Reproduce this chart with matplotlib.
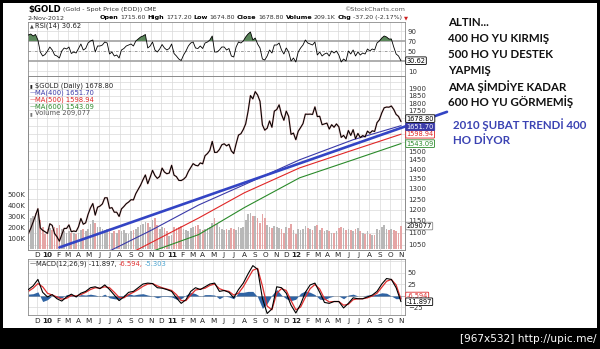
import numpy as np
import pandas as pd
import matplotlib
matplotlib.use('Agg')
import matplotlib.pyplot as plt
from matplotlib.transforms import blended_transform_factory
from matplotlib.patches import Rectangle

plt.rcParams['font.family'] = ['DejaVu Sans']

# weekly (Friday) readings
dates = pd.date_range('2009-11-06', '2012-11-02', freq='W-FRI')

close = [
    # 2009
    1096, 1118, 1145, 1175, 1205, 1120, 1110, 1104,
    # 2010
    1097, 1138, 1131, 1096, 1083, 1065, 1092, 1118, 1118, 1133, 1104, 1107, 1105,
    1125, 1161, 1136, 1142, 1179, 1208, 1229, 1176, 1212, 1217, 1227, 1256, 1256,
    1207, 1210, 1189, 1189, 1170, 1204, 1215, 1228, 1236, 1247, 1246, 1276, 1297,
    1318, 1345, 1370, 1325, 1358, 1394, 1367, 1352, 1362, 1406, 1385, 1376, 1380, 1421,
    # 2011
    1369, 1361, 1342, 1341, 1348, 1360, 1388, 1409, 1430, 1421, 1418, 1434,
    1429, 1474, 1486, 1504, 1556, 1492, 1493, 1509, 1536, 1542, 1530, 1539, 1501,
    1486, 1542, 1594, 1602, 1628, 1663, 1744, 1852, 1829, 1880, 1856, 1812, 1657, 1624,
    1636, 1682, 1642, 1746, 1756, 1788, 1724, 1686, 1746, 1711, 1598, 1606, 1566,
    # 2012
    1617, 1640, 1665, 1726, 1725, 1726, 1724, 1774, 1710, 1712, 1658, 1663, 1668,
    1631, 1658, 1642, 1663, 1645, 1580, 1592, 1572, 1622, 1592, 1627, 1572, 1604,
    1579, 1591, 1583, 1618, 1605, 1620, 1616, 1671, 1690, 1734, 1768, 1773, 1772,
    1780, 1757, 1724, 1711, 1678.8,
]

volume_k = [
    250, 280, 300, 330, 320, 260, 200, 140,
    180, 190, 170, 200, 190, 220, 180, 160, 150, 160, 150, 150, 140,
    150, 170, 180, 160, 180, 230, 260, 240, 200, 200, 180, 170, 180,
    190, 150, 160, 150, 170, 160, 170, 150, 140, 160, 170, 180, 200,
    220, 230, 250, 240, 200, 260, 280, 220, 180, 200, 190, 160, 120, 130,
    200, 190, 200, 210, 180, 170, 160, 190, 200, 210, 220, 180,
    170, 180, 190, 200, 240, 280, 230, 200, 180, 170, 180, 170, 190,
    180, 170, 200, 190, 200, 260, 320, 330, 300, 300, 280, 240, 320, 280,
    220, 200, 190, 210, 200, 190, 180, 150, 200, 190, 230, 170, 140,
    180, 170, 180, 210, 190, 180, 170, 210, 220, 170, 190, 160, 170,
    160, 150, 150, 160, 190, 200, 190, 170, 180, 170, 160, 180, 190,
    160, 150, 140, 160, 140, 130, 130, 180, 170, 200, 220, 180, 170,
    180, 170, 160, 150, 209,
]

rsi = [
    82, 84, 80, 83, 72, 48, 40, 43,
    50, 58, 52, 42, 40, 36, 50, 56, 54, 58, 45, 48, 46,
    55, 64, 52, 55, 66, 70, 72, 48, 60, 60, 62, 68, 66,
    44, 48, 40, 42, 36, 52, 55, 60, 62, 64, 60, 70, 74,
    78, 80, 83, 56, 60, 68, 52, 48, 54, 63, 56, 52, 55, 64,
    45, 40, 34, 31, 42, 50, 60, 66, 68, 56, 55, 60,
    55, 66, 68, 72, 80, 48, 48, 52, 58, 58, 52, 55, 40,
    38, 58, 68, 66, 70, 78, 84, 88, 72, 76, 64, 56, 34, 32,
    40, 52, 46, 62, 62, 66, 52, 44, 56, 48, 30, 36, 28,
    48, 56, 62, 72, 66, 64, 62, 68, 42, 48, 40, 44, 46,
    40, 50, 46, 50, 42, 28, 34, 30, 50, 44, 52, 40, 48,
    42, 46, 44, 54, 50, 54, 52, 66, 70, 76, 80, 78, 74,
    74, 58, 44, 40, 30.62,
]

# MACD read every second week
macd_dates = dates[::2]
macd = [
    14, 22, 36, 8, -2, 3, -6, -11, -2, 4, -2, 6, 10, 18, 20, 16, 24, 14, 2, -10,
    -2, 8, 10, 18, 26, 28, 27, 18, 17, 14, 10, -4, -16, -8, 10, 18, 14, 20, 26, 28,
    10, 12, 8, -4, 14, 28, 48, 66, 58, -5, -38, -28, 20, 18, 6, -20, -37, -18, 8, 24,
    28, 8, -14, -16, -12, -12, -26, -16, -4, -6, -6, -2, 2, 10, 26, 38, 36, 18, -11.897,
]
signal = [
    10, 17, 27, 20, 6, 2, -2, -7, -5, 1, 0, 3, 8, 14, 18, 17, 20, 18, 8, -3,
    -4, 3, 8, 14, 21, 26, 27, 22, 18, 15, 12, 3, -10, -10, 2, 13, 15, 17, 23, 26,
    16, 12, 10, 2, 6, 20, 38, 56, 60, 22, -22, -30, 6, 16, 12, -10, -30, -24, -3, 16,
    25, 15, -6, -13, -12, -12, -20, -18, -8, -6, -6, -4, 0, 6, 19, 32, 36, 24, -6.594,
]

# moving averages (smooth, read at a few dates)
ma400_dates = pd.to_datetime(['2010-05-01', '2010-07-08', '2010-11-01', '2011-03-20',
                              '2011-08-01', '2012-01-10', '2012-06-15', '2012-11-02'])
ma400 = [1000, 1030, 1110, 1222, 1320, 1451, 1566, 1651.7]
ma500_dates = pd.to_datetime(['2010-07-01', '2010-09-20', '2011-03-20', '2011-08-01',
                              '2012-01-10', '2012-06-15', '2012-11-02'])
ma500 = [1000, 1030, 1163, 1280, 1407, 1506, 1598.94]
ma600_dates = pd.to_datetime(['2010-09-01', '2010-11-15', '2011-03-20', '2011-08-01',
                              '2012-01-10', '2012-06-15', '2012-11-02'])
ma600 = [1005, 1030, 1092, 1210, 1355, 1451, 1543.09]

# hand drawn trend line (Feb 2010 low, runs off the chart)
trend_dates = pd.to_datetime(['2010-02-05', '2013-03-17'])
trend_vals = [1040, 1741]

price_grid = list(range(1050, 1951, 50))
price_labels = [1050, 1100, 1150, 1200, 1250, 1300, 1350, 1400, 1450, 1500,
                1750, 1800, 1850, 1900]
vol_ticks = [100, 200, 300, 400, 500]

close = np.array(close)
rsi = np.array(rsi)
hist = np.array(macd) - np.array(signal)

W, H = 600, 349
fig = plt.figure(figsize=(6, 3.49), dpi=100)
renderer = fig.canvas.get_renderer()


def fx(x):
    return x / W


def fy(y):
    return 1 - y / H


def ftext(x, y, s, **kw):
    kw.setdefault('va', 'center')
    return fig.text(fx(x), fy(y), s, **kw)


def text_row(x, y, parts, gap=2.5):
    # lay pieces out one after another using their rendered widths
    for s, kw in parts:
        t = ftext(x, y, s, **kw)
        x += t.get_window_extent(renderer).width + gap


L, R = 28, 405
ax_rsi = fig.add_axes([fx(L), fy(76), (R - L) / W, 54 / H])
ax_vol = fig.add_axes([fx(L), fy(250), (R - L) / W, 174 / H])
ax_px = fig.add_axes([fx(L), fy(250), (R - L) / W, 174 / H], sharex=ax_vol)
ax_px.patch.set_visible(False)
ax_macd = fig.add_axes([fx(L), fy(315), (R - L) / W, 56 / H])

xmin, xmax = pd.Timestamp('2009-11-05'), pd.Timestamp('2012-11-14')
months = pd.date_range('2009-12-01', '2012-11-01', freq='MS')
grid_c = '#d9d9d9'

for ax in (ax_rsi, ax_vol, ax_macd):
    for m in months:
        ax.axvline(m, color=grid_c, lw=0.5, zorder=0)
for ax in (ax_rsi, ax_vol, ax_px, ax_macd):
    ax.set_xlim(xmin, xmax)
    ax.set_xticks([])
    for s in ax.spines.values():
        s.set_color('#8a8a8a')
        s.set_linewidth(0.6)
    ax.tick_params(axis='y', length=0, labelsize=5, colors='#333333', pad=2)

# ---- RSI ----
ax_rsi.set_ylim(0, 108)
for lv in (10, 90):
    ax_rsi.axhline(lv, color=grid_c, lw=0.5, zorder=0)
for lv in (30, 70):
    ax_rsi.axhline(lv, color='#a8a8a8', lw=1.3, zorder=1)
ax_rsi.axhline(50, color='#777777', lw=0.5, ls=(0, (4, 2, 1, 2)), zorder=1)
ax_rsi.fill_between(dates, rsi, 70, where=rsi > 70, interpolate=True,
                    color='#5b875b', lw=0, zorder=2)
ax_rsi.plot(dates, rsi, color='black', lw=0.6, zorder=3)
ax_rsi.yaxis.tick_right()
ax_rsi.set_yticks([10, 50, 70, 90])

# ---- price + volume ----
ax_px.set_yscale('log')
ax_px.set_ylim(1030, 1995)
for lv in price_grid:
    ax_vol.plot([xmin, xmax], [lv, lv], color=grid_c, lw=0.5, zorder=0,
                transform=ax_px.transData)
ax_vol.set_ylim(-9, 1573)
up = np.r_[True, close[1:] >= close[:-1]]
vcol = np.where(up, '#b8b8b8', '#e5a5a5')
ax_vol.bar(dates, volume_k, width=5, color=vcol, lw=0, zorder=1)
ax_vol.set_yticks(vol_ticks)
ax_vol.set_yticklabels([f'{v}K' for v in vol_ticks])
ax_vol.yaxis.tick_left()

ax_px.plot(ma600_dates, ma600, color='#2a8a2a', lw=0.8)
ax_px.plot(ma500_dates, ma500, color='#e02626', lw=0.8)
ax_px.plot(ma400_dates, ma400, color='#3a3aa8', lw=0.8)
ax_px.plot(dates, close, color='#d04040', lw=1.3, alpha=0.35)
ax_px.plot(dates, close, color='black', lw=0.75)
ax_px.plot(trend_dates, trend_vals, color='#3344c4', lw=1.9, clip_on=False,
           solid_capstyle='round', zorder=5)
ax_px.yaxis.tick_right()
ax_px.set_yticks(price_labels)
ax_px.set_yticklabels([str(v) for v in price_labels])
ax_px.yaxis.set_minor_locator(matplotlib.ticker.NullLocator())
ax_px.tick_params(axis='y', length=0, labelsize=5, colors='#333333', pad=2)

# ---- MACD ----
ax_macd.set_ylim(-41.3, 80.4)
for lv in (-25, 25, 50, 75):
    ax_macd.axhline(lv, color=grid_c, lw=0.5, zorder=0)
ax_macd.axhline(0, color='#9a9a9a', lw=0.5, zorder=0)
ax_macd.fill_between(macd_dates, hist, 0, color='#2f63a3', lw=0, zorder=1)
ax_macd.plot(macd_dates, signal, color='#e03030', lw=0.9, zorder=2)
ax_macd.plot(macd_dates, macd, color='black', lw=0.8, zorder=3)
ax_macd.yaxis.tick_right()
ax_macd.set_yticks([-25, 25, 50])

# month labels
mon = 'JFMAMJJASOND'
for ax, yy in ((ax_vol, -0.03), (ax_macd, -0.11)):
    tr = blended_transform_factory(ax.transData, ax.transAxes)
    for m in months:
        jan = m.month == 1
        ax.text(m, yy, f'{m.year % 100:02d}' if jan else mon[m.month - 1],
                transform=tr, ha='center', va='center', fontsize=5.2,
                color='#222222', fontweight='bold' if jan else 'normal')


# value boxes on the right axis
def vbox(ax, y, s, ec, tc='black', face='white'):
    tr = blended_transform_factory(ax.transAxes, ax.transData)
    ax.text(1.004, y, s, transform=tr, ha='left', va='center', fontsize=4.8,
            color=tc, clip_on=False, zorder=10,
            bbox=dict(boxstyle='round,pad=0.12', fc=face, ec=ec, lw=0.6))


vbox(ax_rsi, 30.62, '30.62', 'black')
vbox(ax_px, 1543.09, '1543.09', '#2a8a2a', '#2a8a2a')
vbox(ax_px, 1598.94, '1598.94', '#e02626', '#e02626')
vbox(ax_px, 1645, '1651.70', '#3a3aa8', 'white', '#3a3aa8')
vbox(ax_px, 1697, '1678.80', 'black')
vbox(ax_vol, 209, '209077', '#888888')
vbox(ax_macd, 0, '-6.594', '#e03030', '#e03030')
vbox(ax_macd, -12.5, '-11.897', 'black')

# header
text_row(28, 9.5, [('$GOLD', dict(fontsize=6.2, fontweight='bold')),
                   ('(Gold - Spot Price (EOD))', dict(fontsize=4.6, color='#333333')),
                   ('CME', dict(fontsize=4.4, color='#333333'))], gap=2)
ftext(28, 18, '2-Nov-2012', fontsize=4.6, color='#333333')
b = dict(fontsize=4.6, fontweight='bold')
n = dict(fontsize=4.5, color='#333333')
text_row(100, 17.5, [('Open', b), ('1715.60', n), ('High', b), ('1717.20', n),
                     ('Low', b), ('1674.80', n), ('Close', b), ('1678.80', n),
                     ('Volume', b), ('209.1K', n), ('Chg', b), ('-37.20 (-2.17%)', n),
                     ('\u25bc', dict(fontsize=3.8, color='#cc2020'))], gap=1.8)
ftext(405, 9.5, '\u00a9StockCharts.com', fontsize=4.6, color='#555555', ha='right')

# panel legends
ftext(30, 25.5, '\u25b2', fontsize=3.5, color='#444444')
ftext(35, 25.5, 'RSI(14) 30.62', fontsize=4.9, color='#222222')
ftext(30, 86, '\u25ae', fontsize=3.5, color='#222222')
ftext(35, 86, '$GOLD (Daily) 1678.80', fontsize=4.9, color='#222222')
for yy, s, c in ((93, 'MA(400) 1651.70', '#3a3aa8'), (100, 'MA(500) 1598.94', '#e02626'),
                 (107, 'MA(600) 1543.09', '#2a8a2a')):
    ftext(30, yy, '\u2014', fontsize=4.4, color=c)
    ftext(35, yy, s, fontsize=4.9, color=c)
ftext(30, 113.5, '\u25ae', fontsize=3.5, color='#777777')
ftext(35, 113.5, 'Volume 209,077', fontsize=4.9, color='#555555')
ftext(30, 264, '\u2014', fontsize=4.4, color='black')
text_row(36, 264, [('MACD(12,26,9) -11.897,', dict(fontsize=4.9, color='#222222')),
                   ('-6.594,', dict(fontsize=4.9, color='#e03030')),
                   ('-5.303', dict(fontsize=4.9, color='#4aa3d0'))], gap=2)

# annotation text
note = ['ALTIN...', '400 HO YU KIRMI\u015e', '500 HO YU DESTEK', 'YAPMI\u015e',
        'AMA \u015e\u0130MD\u0130YE KADAR', '600 HO YU G\u00d6RMEM\u0130\u015e']
for i, s in enumerate(note):
    ftext(448, 23 + i * 15.8, s, fontsize=8.3, fontweight='bold',
          family=['Lato', 'DejaVu Sans'], color='#111111')
ftext(453, 125, '2010 \u015eUBAT TREND\u0130 400', fontsize=8.3, fontweight='bold',
      family=['Lato', 'DejaVu Sans'], color='#3b43b3')
ftext(453, 140.5, 'HO D\u0130YOR', fontsize=8.3, fontweight='bold',
      family=['Lato', 'DejaVu Sans'], color='#3b43b3')

# black frame and bottom bar
for (x0, y0, w, h) in ((0, 0, 3, H), (0, 0, W, 3), (W - 3, 0, 3, H), (0, 328, W, 21)):
    fig.add_artist(Rectangle((fx(x0), fy(y0 + h)), w / W, h / H,
                             transform=fig.transFigure, fc='black', ec='none', zorder=20))
fig.text(fx(597), fy(338.5), '[967x532] http://upic.me/', ha='right', va='center',
         fontsize=7.6, color='white', zorder=21)

fig.savefig('out.png', dpi=100, facecolor='white')
